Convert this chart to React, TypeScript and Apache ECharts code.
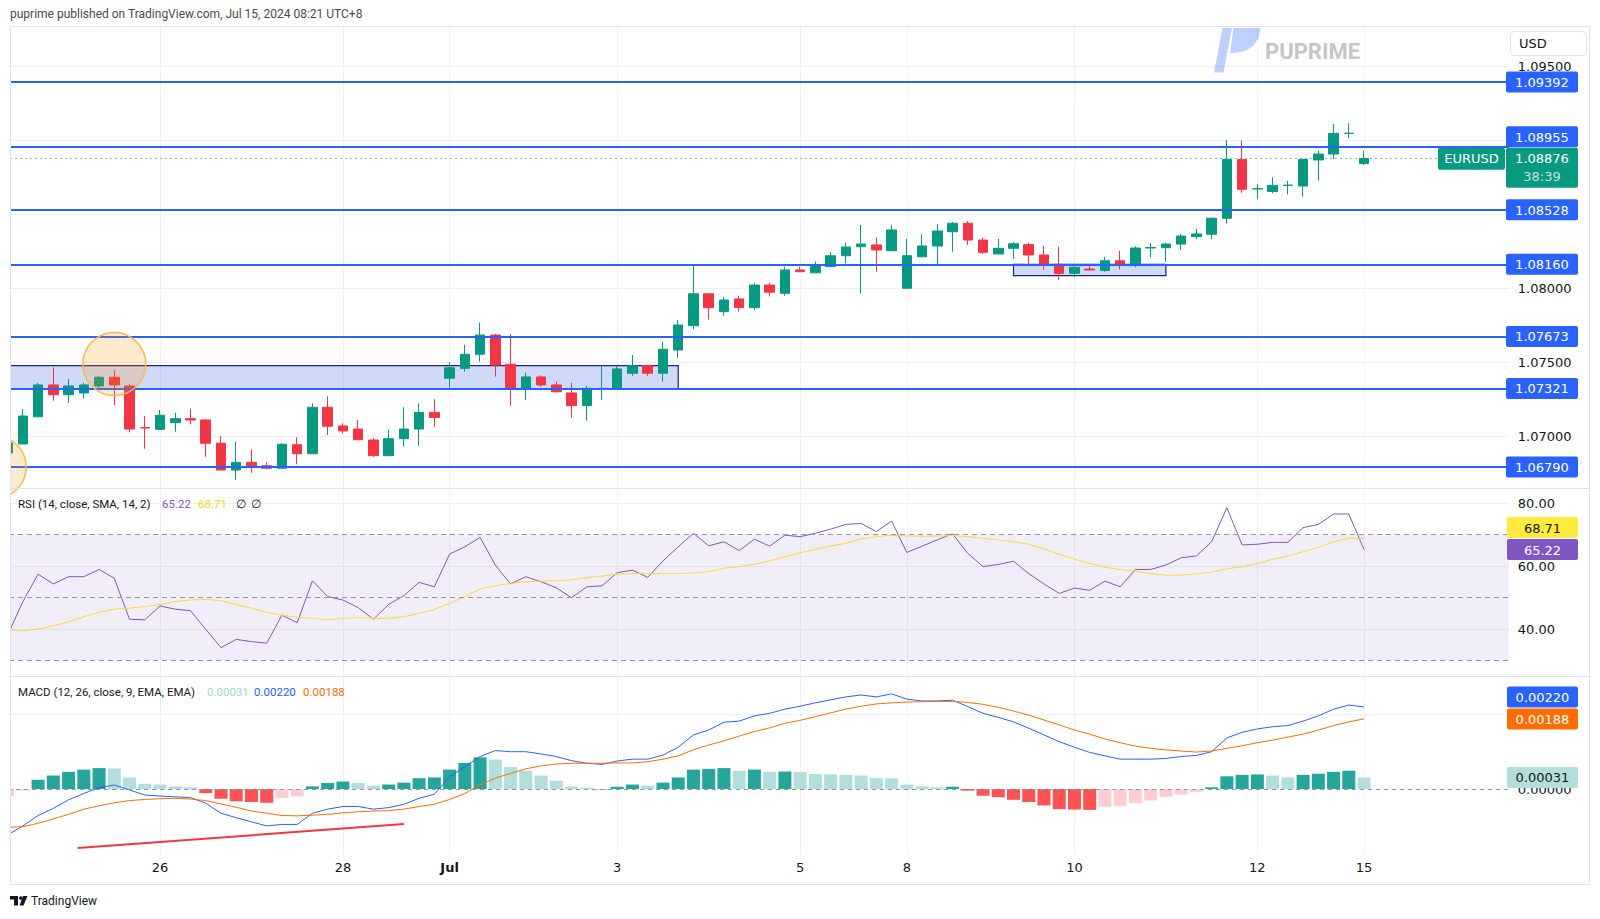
import React, { useEffect, useRef } from "react";
import * as echarts from "echarts";

// ---------- categories: 4H candles, UTC+8 ----------
const sessionDays: [string, number[]][] = [
  ["Jun 24", [9, 13, 17, 21]],
  ["Jun 25", [1, 5, 9, 13, 17, 21]],
  ["Jun 26", [1, 5, 9, 13, 17, 21]],
  ["Jun 27", [1, 5, 9, 13, 17, 21]],
  ["Jun 28", [1, 5, 9, 13, 17, 21]],
  ["Jun 29", [1]],
  ["Jul 1", [5, 9, 13, 17, 21]],
  ["Jul 2", [1, 5, 9, 13, 17, 21]],
  ["Jul 3", [1, 5, 9, 13, 17, 21]],
  ["Jul 4", [1, 5, 9, 13, 17, 21]],
  ["Jul 5", [1, 5, 9, 13, 17, 21]],
  ["Jul 6", [1]],
  ["Jul 8", [5, 9, 13, 17, 21]],
  ["Jul 9", [1, 5, 9, 13, 17, 21]],
  ["Jul 10", [1, 5, 9, 13, 17, 21]],
  ["Jul 11", [1, 5, 9, 13, 17, 21]],
  ["Jul 12", [1, 5, 9, 13, 17, 21]],
  ["Jul 13", [1]],
  ["Jul 15", [5]],
];
const categories: string[] = sessionDays.flatMap(([d, hs]) =>
  hs.map((h) => `${d} ${h < 10 ? "0" + h : h}:00`)
);
const futureSlots = ["+1", "+2", "+3", "+4", "+5", "+6", "+7", "+8", "+9"];
const axisCategories = categories.concat(futureSlots);

const tickIndex = [10, 22, 29, 40, 52, 59, 70, 82, 89];
const tickText = ["26", "28", "Jul", "3", "5", "8", "10", "12", "15"];

// ---------- EURUSD 4H OHLC ----------
const opens = [
  1.06885, 1.06946, 1.0713, 1.07345, 1.07279, 1.07291, 1.07338, 1.07397, 1.07338, 1.07057,
  1.07045, 1.0709, 1.07117, 1.07108, 1.06951, 1.0677, 1.06822, 1.06799, 1.06782, 1.06941,
  1.0688, 1.07194, 1.07068, 1.07047, 1.06973, 1.06867, 1.06982, 1.07047, 1.0716, 1.0739,
  1.07457, 1.07552, 1.07682, 1.07484, 1.07316, 1.07399, 1.07345, 1.07291, 1.07205, 1.07319,
  1.07316, 1.07424, 1.07475, 1.07424, 1.07581, 1.07745, 1.07961, 1.0784, 1.07926, 1.07867,
  1.0802, 1.07964, 1.08122, 1.08103, 1.08144, 1.08218, 1.08279, 1.08291, 1.08252, 1.07998,
  1.08211, 1.08284, 1.0838, 1.08437, 1.08324, 1.0823, 1.08268, 1.08293, 1.08223, 1.0816,
  1.08099, 1.08128, 1.08118, 1.08184, 1.08153, 1.0827, 1.08272, 1.08297, 1.08347, 1.08363,
  1.08471, 1.08868, 1.08669, 1.08652, 1.08693, 1.08689, 1.08865, 1.08905, 1.09044, 1.08841,
];
const closes = [
  1.06953, 1.07135, 1.07345, 1.07279, 1.07338, 1.07345, 1.07397, 1.07345, 1.07047, 1.07054,
  1.0714, 1.07117, 1.07108, 1.06951, 1.0677, 1.06822, 1.06799, 1.06782, 1.06944, 1.0688,
  1.07194, 1.07066, 1.07034, 1.06975, 1.06867, 1.06982, 1.07047, 1.0716, 1.07125, 1.07461,
  1.07552, 1.07682, 1.0748, 1.07316, 1.07399, 1.07345, 1.07299, 1.07205, 1.07322, 1.07322,
  1.07453, 1.07475, 1.07424, 1.07586, 1.0775, 1.07961, 1.07867, 1.07919, 1.07867, 1.0802,
  1.07972, 1.08122, 1.0811, 1.08149, 1.08218, 1.08277, 1.08297, 1.08257, 1.08392, 1.08218,
  1.08284, 1.08385, 1.08437, 1.08324, 1.08241, 1.08268, 1.08299, 1.08223, 1.08155, 1.08099,
  1.0814, 1.08122, 1.08184, 1.08153, 1.0827, 1.08274, 1.08297, 1.08351, 1.08365, 1.08471,
  1.08868, 1.08667, 1.08671, 1.08694, 1.08695, 1.08868, 1.08905, 1.09045, 1.09046, 1.08876,
];
const lows = [
  1.0686, 1.06946, 1.0713, 1.07239, 1.07223, 1.07252, 1.07322, 1.07209, 1.07025, 1.06914,
  1.07045, 1.07029, 1.07079, 1.0686, 1.0677, 1.06703, 1.06752, 1.06777, 1.06782, 1.06809,
  1.0688, 1.07007, 1.07018, 1.06975, 1.0686, 1.06867, 1.06928, 1.06934, 1.07063, 1.07329,
  1.07434, 1.07502, 1.07401, 1.07205, 1.07243, 1.07333, 1.07293, 1.07124, 1.07103, 1.07243,
  1.07316, 1.07407, 1.07407, 1.07367, 1.07529, 1.07721, 1.07786, 1.07813, 1.0784, 1.07851,
  1.07943, 1.07948, 1.0811, 1.08103, 1.08144, 1.08167, 1.07964, 1.0811, 1.08252, 1.07998,
  1.08207, 1.08151, 1.08245, 1.08291, 1.0823, 1.0823, 1.08196, 1.08155, 1.08122, 1.08054,
  1.08072, 1.08117, 1.0811, 1.08126, 1.0814, 1.08207, 1.08178, 1.08257, 1.08329, 1.08329,
  1.08436, 1.08644, 1.08599, 1.0864, 1.08633, 1.08617, 1.08725, 1.08872, 1.09011, 1.08831,
];
const highs = [
  1.0698, 1.07182, 1.0736, 1.07464, 1.07385, 1.0736, 1.07405, 1.07446, 1.07349, 1.07135,
  1.07176, 1.07157, 1.07184, 1.07115, 1.07, 1.06961, 1.0691, 1.06822, 1.06951, 1.06991,
  1.07221, 1.07268, 1.07086, 1.07108, 1.06986, 1.07043, 1.07194, 1.07221, 1.07248, 1.07498,
  1.07617, 1.07766, 1.07689, 1.07689, 1.07428, 1.0741, 1.07367, 1.0736, 1.07338, 1.07475,
  1.07475, 1.07547, 1.07475, 1.07637, 1.07784, 1.08162, 1.07961, 1.07941, 1.07948, 1.08036,
  1.08036, 1.08144, 1.08144, 1.08178, 1.08245, 1.08309, 1.08426, 1.08343, 1.08426, 1.08331,
  1.08363, 1.08432, 1.08446, 1.08453, 1.0834, 1.08331, 1.08311, 1.08306, 1.08284, 1.08279,
  1.0816, 1.0816, 1.08211, 1.08252, 1.08282, 1.08304, 1.08306, 1.08365, 1.08399, 1.08478,
  1.09, 1.08997, 1.08703, 1.08748, 1.08723, 1.0887, 1.08928, 1.09108, 1.09113, 1.08927,
];
const symbolName = "EURUSD";
const lastPrice = 1.08876;
const countdown = "38:39";

// horizontal support / resistance levels
const levels = [1.09392, 1.08955, 1.08528, 1.0816, 1.07673, 1.07321, 1.0679];
// rectangles: [fromIndex, toIndex, topPrice, bottomPrice]
const zones: [number, number, number, number][] = [
  [0, 44, 1.07475, 1.07321],
  [66, 76, 1.0816, 1.08083],
];
// highlight circles: [index, price]
const circles: [number, number][] = [
  [7, 1.07486],
  [-0.85, 1.0679],
];

// ---------- RSI (14, close, SMA 14) ----------
const rsi = [
  38.0, 48.7, 57.4, 54.3, 56.6, 56.6, 58.9, 56.1, 43.1, 42.9,
  47.3, 46.3, 45.8, 39.9, 34.1, 36.7, 36.0, 35.5, 44.4, 42.0,
  55.3, 50.3, 49.2, 46.8, 43.1, 47.8, 50.6, 54.8, 53.4, 63.8,
  66.1, 69.1, 60.3, 54.3, 56.6, 55.0, 53.1, 49.9, 53.4, 53.7,
  57.9, 58.7, 56.4, 61.6, 66.1, 70.4, 66.4, 67.7, 64.9, 68.5,
  66.3, 69.8, 69.3, 70.4, 71.7, 73.2, 73.5, 70.9, 74.3, 64.3,
  66.3, 68.3, 70.2, 64.0, 59.8, 60.5, 61.5, 57.6, 54.3, 51.3,
  53.0, 52.3, 55.2, 53.4, 58.9, 58.9, 60.3, 62.6, 63.2, 67.7,
  78.5, 66.7, 66.9, 67.5, 67.5, 72.2, 73.2, 76.5, 76.5, 65.22,
];
const rsiSma = [
  39.8, 39.4, 40.0, 41.0, 42.3, 43.9, 45.3, 46.3, 46.6, 47.1,
  47.8, 48.7, 49.2, 49.4, 49.0, 47.8, 46.6, 45.3, 44.4, 43.7,
  43.4, 42.9, 43.4, 43.6, 43.4, 43.4, 43.9, 45.0, 46.2, 48.1,
  50.3, 52.7, 53.7, 54.5, 55.0, 55.2, 55.3, 55.6, 56.3, 56.8,
  57.4, 57.6, 57.6, 57.6, 57.6, 57.8, 58.2, 59.3, 59.8, 60.5,
  61.6, 62.9, 64.2, 65.3, 66.3, 67.2, 68.6, 69.3, 69.8, 69.5,
  69.4, 69.5, 69.7, 69.3, 68.8, 68.3, 67.7, 66.9, 65.4, 63.7,
  62.2, 60.8, 59.6, 58.9, 58.3, 57.6, 57.1, 57.1, 57.5, 58.1,
  59.1, 59.8, 60.8, 62.1, 63.2, 64.5, 65.9, 67.7, 68.8, 68.71,
];
const rsiLevels = [70, 50, 30];

// ---------- MACD (12, 26, 9) in units of 0.0001 ----------
const macdLine = [
  -12.3, -9.9, -7.1, -5.2, -2.9, -1.2, 0.35, 1.07, -0.27, -1.6,
  -1.9, -2.1, -2.3, -3.8, -6.5, -7.7, -8.8, -9.9, -9.5, -9.5,
  -6.5, -5.4, -4.7, -4.7, -5.4, -5.0, -4.1, -2.5, -1.4, 3.3,
  6.0, 8.7, 10.3, 10.0, 10.0, 9.4, 8.7, 7.6, 6.9, 6.6,
  7.5, 8.0, 8.0, 9.1, 11.2, 14.5, 15.8, 17.9, 18.2, 19.6,
  20.3, 21.4, 22.2, 23.1, 23.9, 24.7, 25.2, 24.7, 25.5, 24.1,
  23.6, 23.6, 23.8, 22.1, 20.3, 19.2, 18.0, 16.3, 14.5, 12.7,
  11.2, 9.8, 8.9, 8.0, 8.0, 8.0, 8.2, 8.7, 9.0, 10.0,
  13.7, 15.2, 16.1, 16.7, 17.0, 18.2, 19.6, 21.4, 22.5, 22.0,
];
const signalLine = [
  -10.3, -10.1, -9.2, -8.0, -6.8, -5.4, -4.5, -3.7, -3.1, -2.8,
  -2.6, -2.5, -2.7, -3.1, -4.0, -4.9, -5.9, -6.5, -7.1, -7.2,
  -7.0, -6.8, -6.4, -6.1, -5.9, -5.8, -5.4, -4.7, -4.1, -2.8,
  -1.2, 1.1, 2.9, 4.2, 5.4, 6.2, 6.7, 6.9, 6.9, 6.9,
  7.0, 7.0, 7.3, 8.0, 8.9, 10.5, 11.8, 12.9, 14.2, 15.4,
  16.4, 17.6, 18.4, 19.4, 20.4, 21.4, 22.2, 22.8, 23.1, 23.3,
  23.4, 23.5, 23.5, 23.2, 22.7, 21.9, 20.9, 19.8, 18.5, 17.2,
  15.8, 14.7, 13.4, 12.4, 11.5, 10.9, 10.5, 10.2, 9.9, 10.2,
  10.9, 11.6, 12.4, 13.1, 13.9, 14.7, 15.8, 17.0, 18.0, 18.8,
];
const macdHist = [
  -1.9, -0.4, 2.5, 3.6, 4.6, 5.2, 5.6, 5.5, 3.1, 1.4,
  1.2, 0.7, 0.45, -1.1, -2.6, -3.3, -3.5, -3.7, -2.4, -2.0,
  0.7, 1.6, 2.0, 1.6, 0.9, 1.2, 1.7, 2.9, 3.1, 5.2,
  7.0, 8.5, 7.9, 5.9, 4.9, 3.6, 2.2, 0.7, 0.4, -0.1,
  0.6, 1.2, 0.9, 1.7, 3.1, 5.2, 5.4, 5.6, 4.9, 5.2,
  4.6, 4.7, 4.6, 4.0, 3.95, 3.8, 3.6, 2.9, 2.85, 1.2,
  0.7, 0.45, 0.6, -0.45, -1.8, -2.2, -2.9, -3.5, -4.4, -5.4,
  -5.5, -5.6, -4.8, -4.6, -3.8, -3.1, -2.1, -1.5, -0.8, 0.45,
  3.4, 3.8, 3.9, 3.6, 3.1, 3.8, 4.1, 4.6, 4.9, 3.1,
];
// trend line drawn under the MACD: [index, value] start and end
const macdTrend: [number, number][] = [
  [4.6, -15.8],
  [26, -9.4],
];

// ---------- styling ----------
const UP = "#089981";
const DOWN = "#f23645";
const BLUE = "#2962ff";
const GRIDC = "#eef0f3";
const AXFONT = '"DejaVu Sans", sans-serif';
const LEGFONT = "Roboto, sans-serif";
const MACD_SCALE = 10000;

const gridX = { left: -0.62, right: 91.17 };
const MAIN_MIN = 1.065;
const MAIN_H = 483;
const MAIN_MAX = MAIN_MIN + MAIN_H / 14800;
const MACD_MIN = -20;
const MACD_MAX = 30.295;
const MACD_H = 187.6;

function histColor(i: number): string {
  const v = macdHist[i];
  const prev = i > 0 ? macdHist[i - 1] : -Infinity;
  if (v >= 0) return v >= prev ? "#26a69a" : "#b2dfdb";
  return v <= prev ? "#ff5252" : "#ffcdd2";
}

function vGrid(z = 0) {
  return {
    silent: true,
    symbol: ["none", "none"],
    z,
    precision: 5,
    label: { show: false },
    lineStyle: { color: GRIDC, width: 1, type: "solid" },
    data: tickIndex.map((i) => ({ xAxis: i })),
  };
}

// axis labels that sit under a price tag on the right are not drawn
function hiddenByTag(v: number, tagValues: number[], pxPerUnit: number): boolean {
  return tagValues.some((t) => Math.abs(v - t) * pxPerUnit < 12);
}

function buildOption(): any {
  const xAxisBase = (g: number) => ({
    type: "category",
    gridIndex: g,
    data: axisCategories,
    boundaryGap: true,
    axisLine: { show: false },
    axisTick: { show: false },
    splitLine: { show: false },
    axisLabel: { show: false },
  });
  const mainPx = MAIN_H / (MAIN_MAX - MAIN_MIN);
  const macdPx = MACD_H / (MACD_MAX - MACD_MIN);
  const lastS = signalLine[signalLine.length - 1];
  const lastM = macdLine[macdLine.length - 1];
  return {
    animation: false,
    grid: [
      { ...gridX, top: 27, height: MAIN_H },
      { ...gridX, top: 488, height: 204 },
      { ...gridX, top: 676, height: MACD_H },
    ],
    xAxis: [
      xAxisBase(0),
      xAxisBase(1),
      {
        ...xAxisBase(2),
        offset: -9,
        axisLabel: {
          show: true,
          margin: 6,
          interval: (idx: number) => tickIndex.indexOf(idx) >= 0,
          formatter: (_v: string, idx: number) => {
            const k = tickIndex.indexOf(idx);
            if (k < 0) return "";
            const t = tickText[k];
            return t === "Jul" ? `{b|${t}}` : t;
          },
          color: "#131722",
          fontFamily: AXFONT,
          fontSize: 13,
          rich: { b: { fontWeight: "bold", fontFamily: AXFONT, fontSize: 13, color: "#131722" } },
        },
      },
    ],
    yAxis: [
      {
        type: "value",
        gridIndex: 0,
        position: "right",
        min: MAIN_MIN,
        max: MAIN_MAX,
        interval: 0.005,
        axisLine: { show: false },
        axisTick: { show: false },
        splitLine: { show: true, showMinLine: false, showMaxLine: false, lineStyle: { color: GRIDC } },
        axisLabel: {
          margin: 9,
          color: "#131722",
          fontFamily: AXFONT,
          fontSize: 13,
          formatter: (v: number) => {
            const k = Math.round(v * 200);
            const onTick = Math.abs(v * 200 - k) < 1e-6 && v > MAIN_MIN + 0.0001;
            if (!onTick) return "";
            if (hiddenByTag(v, levels.concat([lastPrice, 1.0894]), mainPx)) return "";
            return v.toFixed(5);
          },
        },
      },
      {
        type: "value",
        gridIndex: 1,
        position: "right",
        min: 20,
        max: 20 + 204 / 3.15,
        interval: 20,
        axisLine: { show: false },
        axisTick: { show: false },
        splitLine: { show: true, showMinLine: false, showMaxLine: false, lineStyle: { color: GRIDC } },
        axisLabel: {
          margin: 9,
          color: "#131722",
          fontFamily: AXFONT,
          fontSize: 13,
          formatter: (v: number) => (Math.abs(v % 20) < 1e-9 && v >= 40 ? v.toFixed(2) : ""),
        },
      },
      {
        type: "value",
        gridIndex: 2,
        position: "right",
        min: MACD_MIN,
        max: MACD_MAX,
        interval: 20,
        axisLine: { show: false },
        axisTick: { show: false },
        splitLine: { show: true, showMinLine: false, showMaxLine: false, lineStyle: { color: GRIDC } },
        axisLabel: {
          margin: 9,
          color: "#131722",
          fontFamily: AXFONT,
          fontSize: 13,
          formatter: (v: number) => {
            if (!(Math.abs(v % 20) < 1e-9 && v > MACD_MIN)) return "";
            if (hiddenByTag(v, [lastS, lastM], macdPx)) return "";
            return (v / MACD_SCALE).toFixed(5);
          },
        },
      },
    ],
    series: [
      { type: "line", xAxisIndex: 0, yAxisIndex: 0, data: [], silent: true, z: 0, markLine: vGrid(0) },
      {
        type: "candlestick",
        name: symbolName,
        xAxisIndex: 0,
        yAxisIndex: 0,
        barWidth: 10,
        data: opens.map((o, i) => [o, closes[i], lows[i], highs[i]]),
        itemStyle: { color: UP, color0: DOWN, borderColor: UP, borderColor0: DOWN, borderWidth: 1 },
        markArea: {
          silent: true,
          z: 1,
          itemStyle: { color: "rgba(46,84,224,0.22)", borderColor: "#1a237e", borderWidth: 1.2 },
          data: zones.map(([a, b, top, bot]) => [
            { xAxis: a, yAxis: top },
            { xAxis: b, yAxis: bot },
          ]),
        },
        markLine: {
          silent: true,
          symbol: ["none", "none"],
          precision: 5,
          label: { show: false },
          z: 5,
          data: [
            ...levels.map((v) => ({ yAxis: v, lineStyle: { color: BLUE, width: 2, type: "solid" } })),
            { yAxis: lastPrice, lineStyle: { color: "rgba(8,153,129,0.55)", width: 1, type: [2, 3] } },
          ],
        },
      },
      { type: "line", xAxisIndex: 1, yAxisIndex: 1, data: [], silent: true, z: 0, markLine: vGrid(0) },
      {
        type: "line",
        name: "RSI",
        xAxisIndex: 1,
        yAxisIndex: 1,
        data: rsi,
        symbol: "none",
        showSymbol: false,
        lineStyle: { color: "#7e57c2", width: 1 },
        markArea: {
          silent: true,
          z: 1,
          itemStyle: { color: "rgba(126,87,194,0.1)" },
          data: [[{ yAxis: rsiLevels[0] }, { yAxis: rsiLevels[2] }]],
        },
        markLine: {
          silent: true,
          symbol: ["none", "none"],
          precision: 5,
          label: { show: false },
          lineStyle: { color: "#9598a1", width: 1, type: [5, 4] },
          data: rsiLevels.map((v) => ({ yAxis: v })),
        },
      },
      {
        type: "line",
        name: "RSI-based MA",
        xAxisIndex: 1,
        yAxisIndex: 1,
        data: rsiSma,
        symbol: "none",
        showSymbol: false,
        lineStyle: { color: "#fdd835", width: 1 },
      },
      {
        type: "line",
        xAxisIndex: 2,
        yAxisIndex: 2,
        data: [],
        silent: true,
        z: 0,
        markLine: {
          ...vGrid(0),
          data: tickIndex.map((i) => [
            { xAxis: i, yAxis: MACD_MAX },
            { xAxis: i, yAxis: -17.7 },
          ]),
        },
      },
      {
        type: "bar",
        name: "Histogram",
        xAxisIndex: 2,
        yAxisIndex: 2,
        barWidth: 13,
        data: macdHist.map((v, i) => ({ value: v, itemStyle: { color: histColor(i) } })),
        markLine: {
          silent: true,
          symbol: ["none", "none"],
          precision: 5,
          label: { show: false },
          lineStyle: { color: "#9598a1", width: 1, type: [4, 4] },
          data: [{ yAxis: 0 }],
        },
      },
      {
        type: "line",
        name: "MACD",
        xAxisIndex: 2,
        yAxisIndex: 2,
        data: macdLine,
        symbol: "none",
        showSymbol: false,
        lineStyle: { color: BLUE, width: 1 },
      },
      {
        type: "line",
        name: "Signal",
        xAxisIndex: 2,
        yAxisIndex: 2,
        data: signalLine,
        symbol: "none",
        showSymbol: false,
        lineStyle: { color: "#ff6d00", width: 1 },
      },
    ],
  };
}

function txt(x: number, y: number, text: string, font: string, fill: string, align = "left", z = 40): any {
  return {
    type: "text",
    z,
    style: {
      x,
      y,
      text,
      font,
      fill,
      textAlign: align,
      align,
      textVerticalAlign: "middle",
      verticalAlign: "middle",
    },
  };
}

function tag(x: number, yc: number, w: number, h: number, fill: string, text: string, color: string): any[] {
  return [
    { type: "rect", z: 30, shape: { x, y: yc - h / 2, width: w, height: h, r: 2 }, style: { fill } },
    txt(x + w / 2, yc + 0.5, text, `13px ${AXFONT}`, color, "center", 31),
  ];
}

function buildGraphic(chart: any): any[] {
  const px = (g: number, x: number, y: number) => chart.convertToPixel({ gridIndex: g }, [x, y]) as number[];
  const py = (a: number, v: number) => chart.convertToPixel({ yAxisIndex: a }, v) as number;
  const x0 = px(0, 0, lastPrice)[0];
  const x1 = px(0, 1, lastPrice)[0];
  const xAt = (idx: number) => x0 + idx * (x1 - x0);

  const els: any[] = [];
  const TX = 1506;
  const TW = 72;
  const TH = 21;

  // header
  els.push(txt(10, 14, "puprime published on TradingView.com, Jul 15, 2024 08:21 UTC+8", `12px ${LEGFONT}`, "#4a4a4a"));

  // watermark
  els.push({
    type: "polygon",
    z: 3,
    shape: { points: [[1222.5, 28], [1232, 28], [1223.5, 72.5], [1214, 72.5]] },
    style: { fill: "rgba(41,98,255,0.3)" },
  });
  els.push({
    type: "polygon",
    z: 3,
    shape: { points: [[1233.5, 28], [1260.5, 28], [1258.5, 38], [1253, 46], [1245, 51], [1235, 53], [1230, 53]] },
    style: { fill: "rgba(41,98,255,0.3)" },
  });
  els.push(txt(1265, 51, "PUPRIME", `bold 22px ${LEGFONT}`, "#c6c6c6", "left", 3));

  // USD box
  els.push({ type: "rect", z: 30, shape: { x: 1510.5, y: 31.5, width: 76, height: 24, r: 4 }, style: { fill: "#fff", stroke: "#e0e3eb", lineWidth: 1 } });
  els.push(txt(1519, 43.5, "USD", `13px ${AXFONT}`, "#131722", "left", 31));

  // price box + symbol tag
  const yLast = py(0, lastPrice);
  const boxTop = yLast - 10.5;
  els.push({ type: "rect", z: 30, shape: { x: 1438, y: boxTop, width: 67, height: 22, r: 2 }, style: { fill: UP } });
  els.push(txt(1471.5, yLast + 0.5, symbolName, `13px ${AXFONT}`, "#fff", "center", 31));
  els.push({ type: "rect", z: 30, shape: { x: TX, y: boxTop, width: TW, height: 40, r: 2 }, style: { fill: UP } });
  els.push(txt(TX + TW / 2, yLast + 0.5, lastPrice.toFixed(5), `13px ${AXFONT}`, "#fff", "center", 31));
  els.push(txt(TX + TW / 2, yLast + 18, countdown, `13px ${AXFONT}`, "rgba(255,255,255,0.75)", "center", 31));

  // level tags
  levels.forEach((v) => {
    let yc = py(0, v);
    if (yc + TH / 2 > boxTop && yc - TH / 2 < boxTop + 40) yc = boxTop - 0.5 - TH / 2;
    els.push(...tag(TX, yc, TW, TH, BLUE, v.toFixed(5), "#fff"));
  });

  // RSI tags
  const yRsi = py(1, rsi[rsi.length - 1]);
  els.push(...tag(TX + 1, yRsi, 71, TH, "#7e57c2", rsi[rsi.length - 1].toFixed(2), "#fff"));
  els.push(...tag(TX + 1, yRsi - 22, 71, TH, "#ffeb3b", rsiSma[rsiSma.length - 1].toFixed(2), "#131722"));

  // MACD tags
  const lastM = macdLine[macdLine.length - 1];
  const lastS = signalLine[signalLine.length - 1];
  const lastH = macdHist[macdHist.length - 1];
  const ySig = py(2, lastS);
  els.push(...tag(TX + 1, ySig, 71, TH, "#ff6d00", (lastS / MACD_SCALE).toFixed(5), "#fff"));
  els.push(...tag(TX + 1, ySig - 22, 71, TH, BLUE, (lastM / MACD_SCALE).toFixed(5), "#fff"));
  els.push(...tag(TX + 1, py(2, lastH), 71, TH, "#b2dfdb", (lastH / MACD_SCALE).toFixed(5), "#131722"));

  // circles
  circles.forEach(([i, p]) => {
    els.push({
      type: "circle",
      z: 10,
      shape: { cx: xAt(i), cy: py(0, p), r: 31.5 },
      style: { fill: "rgba(255,152,0,0.2)", stroke: "#ffb74d", lineWidth: 1.5 },
    });
  });

  // MACD trend line
  els.push({
    type: "line",
    z: 10,
    shape: {
      x1: xAt(macdTrend[0][0]),
      y1: py(2, macdTrend[0][1]),
      x2: xAt(macdTrend[1][0]),
      y2: py(2, macdTrend[1][1]),
    },
    style: { stroke: DOWN, lineWidth: 2 },
  });

  // legends
  els.push(txt(18, 504, "RSI (14, close, SMA, 14, 2)", `11.5px ${LEGFONT}`, "#131722"));
  els.push(txt(162, 504, rsi[rsi.length - 1].toFixed(2), `11.5px ${LEGFONT}`, "#7e57c2"));
  els.push(txt(198, 504, rsiSma[rsiSma.length - 1].toFixed(2), `11.5px ${LEGFONT}`, "#f5d31c"));
  els.push(txt(236, 504, "∅", `11.5px ${LEGFONT}`, "#131722"));
  els.push(txt(251, 504, "∅", `11.5px ${LEGFONT}`, "#131722"));
  els.push(txt(18, 692, "MACD (12, 26, close, 9, EMA, EMA)", `11.5px ${LEGFONT}`, "#131722"));
  els.push(txt(207, 692, (lastH / MACD_SCALE).toFixed(5), `11.5px ${LEGFONT}`, "#9fd6cf"));
  els.push(txt(254, 692, (lastM / MACD_SCALE).toFixed(5), `11.5px ${LEGFONT}`, BLUE));
  els.push(txt(303, 692, (lastS / MACD_SCALE).toFixed(5), `11.5px ${LEGFONT}`, "#ff6d00"));

  // left cover + frame + pane separators
  els.push({ type: "rect", z: 50, shape: { x: 0, y: 20, width: 10, height: 870 }, style: { fill: "#fff" } });
  els.push({ type: "rect", z: 51, shape: { x: 10.5, y: 26.5, width: 1579, height: 858 }, style: { fill: "none", stroke: "#e0e3eb", lineWidth: 1 } });
  els.push({ type: "line", z: 51, shape: { x1: 10.5, y1: 488.5, x2: 1589.5, y2: 488.5 }, style: { stroke: "#e0e3eb", lineWidth: 1 } });
  els.push({ type: "line", z: 51, shape: { x1: 10.5, y1: 676.5, x2: 1589.5, y2: 676.5 }, style: { stroke: "#e0e3eb", lineWidth: 1 } });

  // footer TradingView logo
  els.push({ type: "rect", z: 40, shape: { x: 10, y: 896, width: 8, height: 3.5 }, style: { fill: "#131722" } });
  els.push({ type: "rect", z: 40, shape: { x: 14, y: 896, width: 4, height: 9.5 }, style: { fill: "#131722" } });
  els.push({ type: "circle", z: 40, shape: { cx: 20.8, cy: 898, r: 1.8 }, style: { fill: "#131722" } });
  els.push({ type: "polygon", z: 40, shape: { points: [[23, 896], [27.5, 896], [23.5, 905.5], [19.5, 905.5]] }, style: { fill: "#131722" } });
  els.push(txt(31, 901, "TradingView", `12px ${LEGFONT}`, "#131722"));

  return els;
}

export default function App() {
  const ref = useRef<HTMLDivElement>(null);
  useEffect(() => {
    if (!ref.current) return;
    const chart = echarts.init(ref.current, null, { renderer: "svg" });
    chart.setOption(buildOption());
    chart.setOption({ graphic: buildGraphic(chart) });
    return () => chart.dispose();
  }, []);
  return (
    <div
      ref={ref}
      style={{ position: "absolute", left: 0, top: 0, width: 1600, height: 919, background: "#fff" }}
    />
  );
}
